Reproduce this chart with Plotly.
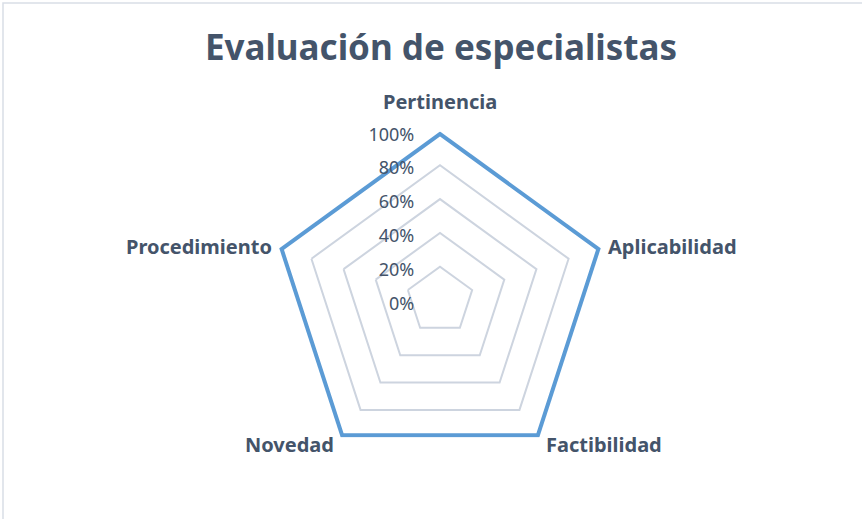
import math
import plotly.graph_objects as go

# Criteria evaluated by the specialists and the share of approval for each
criterios = ["Pertinencia", "Aplicabilidad", "Factibilidad", "Novedad", "Procedimiento"]
valores = [1.0, 1.0, 1.0, 1.0, 1.0]
niveles = [0, 0.2, 0.4, 0.6, 0.8, 1.0]
etiquetas_niveles = ["0%", "20%", "40%", "60%", "80%", "100%"]

texto = "#44546A"
azul = "#5B9BD5"
rejilla = "#CDD4DF"

W, H = 862, 519
cx, cy, R = 440, 300.5, 169

fig = go.Figure()
fig.add_trace(go.Scatterpolar(
    r=valores + valores[:1],
    theta=criterios + criterios[:1],
    mode="lines",
    line=dict(color=azul, width=8),
    hoverinfo="skip",
    showlegend=False,
))

# Category labels sit just outside each vertex of the outer ring
anotaciones = []
n = len(criterios)
for i, nombre in enumerate(criterios):
    ang = 2 * math.pi * i / n
    sx, cyc = math.sin(ang), math.cos(ang)
    vx = cx + R * sx
    vy = cy - R * cyc
    if sx > 0.1:
        xa, px = "left", vx + 5
    elif sx < -0.1:
        xa, px = "right", vx - 5
    else:
        xa, px = "center", vx
    if abs(sx) < 0.1:
        ya, py = "bottom", vy - 14
    elif cyc < 0:
        ya, py = "middle", vy + 7
    else:
        ya, py = "middle", vy - 2
    anotaciones.append(dict(
        text=nombre, xref="paper", yref="paper",
        x=px / W, y=1 - py / H, xanchor=xa, yanchor=ya,
        showarrow=False,
        font=dict(family="Noto Sans", size=20, color=texto, weight="bold"),
    ))

fig.update_layout(
    width=W, height=H,
    margin=dict(l=0, r=0, t=0, b=0),
    paper_bgcolor="white",
    plot_bgcolor="white",
    title=dict(
        text="Evaluación de especialistas",
        x=(cx + 1) / W, xanchor="center",
        y=1 - 48 / H, yanchor="middle",
        font=dict(family="Noto Sans", size=35, color=texto, weight="bold"),
    ),
    polar=dict(
        domain=dict(x=[(cx - R) / W, (cx + R) / W],
                    y=[(H - cy - R) / H, (H - cy + R) / H]),
        gridshape="linear",
        bgcolor="white",
        radialaxis=dict(
            range=[0, 1],
            tickvals=niveles,
            ticktext=etiquetas_niveles,
            angle=90,
            side="counterclockwise",
            showline=False,
            gridcolor=rejilla,
            gridwidth=1.5,
            ticks="outside",
            ticklen=9,
            tickcolor="rgba(0,0,0,0)",
            tickfont=dict(family="Noto Sans", size=18, color=texto),
        ),
        angularaxis=dict(
            direction="clockwise",
            rotation=90,
            showgrid=False,
            showline=False,
            showticklabels=False,
            ticks="",
        ),
    ),
    annotations=anotaciones,
    shapes=[dict(type="rect", xref="paper", yref="paper",
                 x0=3 / W, x1=1.01, y0=-0.01, y1=1 - 3 / H,
                 line=dict(color="#D9DEE6", width=1.5))],
)

fig.write_html("out.html")
